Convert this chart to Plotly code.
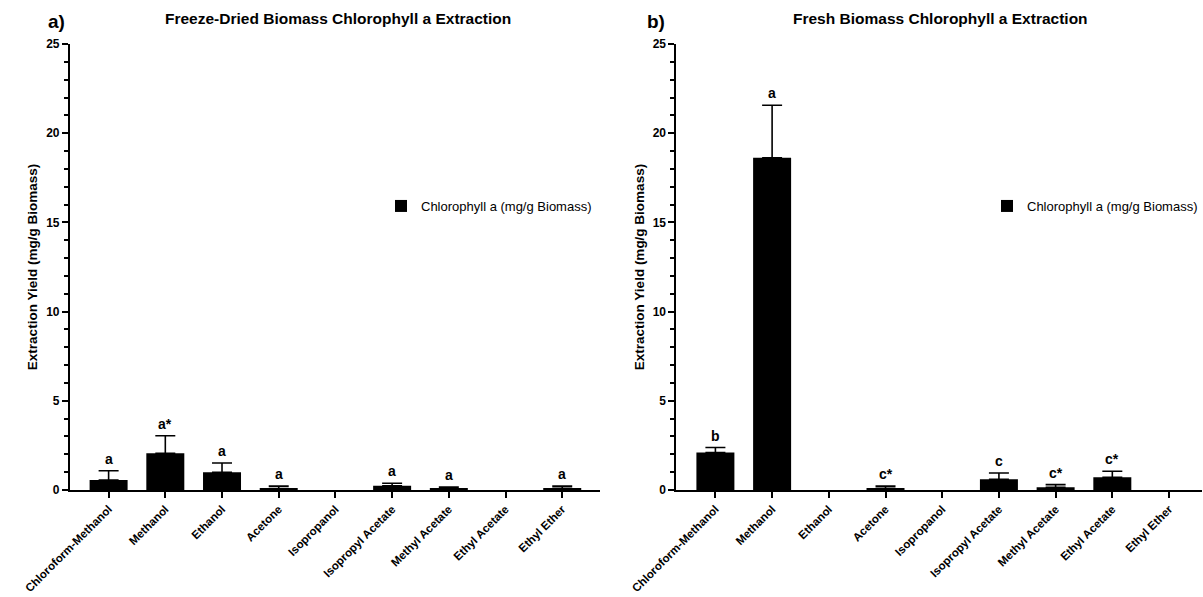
import plotly.graph_objects as go
from plotly.subplots import make_subplots

solvents = ["Chloroform-Methanol", "Methanol", "Ethanol", "Acetone", "Isopropanol",
            "Isopropyl Acetate", "Methyl Acetate", "Ethyl Acetate", "Ethyl Ether"]

fd_mean = [0.56, 2.06, 0.99, 0.08, 0.0, 0.24, 0.08, 0.0, 0.10]
fd_err = [0.52, 0.98, 0.52, 0.14, 0.0, 0.14, 0.09, 0.0, 0.12]
fd_letters = ["a", "a*", "a", "a", "", "a", "a", "", "a"]

fr_mean = [2.10, 18.62, 0.0, 0.10, 0.0, 0.60, 0.15, 0.71, 0.0]
fr_err = [0.28, 2.95, 0.0, 0.12, 0.0, 0.35, 0.15, 0.34, 0.0]
fr_letters = ["b", "a", "", "c*", "", "c", "c*", "c*", ""]

series_name = "Chlorophyll a (mg/g Biomass)"
titles = ["Freeze-Dried Biomass Chlorophyll a Extraction", "Fresh Biomass Chlorophyll a Extraction"]
panel_tags = ["a)", "b)"]
y_ticks = [0, 5, 10, 15, 20, 25]

FONT = "Liberation Sans, Arial, Helvetica, sans-serif"
W, H = 1203, 597

fig = make_subplots(rows=1, cols=2)

for col, (mean, err, legend_id) in enumerate(
        [(fd_mean, fd_err, "legend"), (fr_mean, fr_err, "legend2")], start=1):
    idx = [k for k in range(len(solvents)) if mean[k] > 0]
    fig.add_trace(go.Bar(
        x=idx, y=[mean[k] for k in idx], name=series_name,
        marker=dict(color="black", line=dict(width=0)),
        width=0.67,
        error_y=dict(type="data", symmetric=False, array=[err[k] for k in idx],
                     arrayminus=[0] * len(idx), color="black",
                     thickness=1.6, width=10),
        legend=legend_id, showlegend=True,
    ), row=1, col=col)

# domains in pixels
px_a = (70, 600)
px_b = (677, 1203)
y_top, y_bot = 44, 490
spacing = 56.75
first_tick = [108.7, 716.0]

axis_common = dict(showline=True, linecolor="black", linewidth=2,
                   ticks="outside", tickcolor="black", tickwidth=2, ticklen=6,
                   showgrid=False, zeroline=False)

for i, (px, ft) in enumerate([(px_a, first_tick[0]), (px_b, first_tick[1])]):
    xname = "xaxis" if i == 0 else "xaxis2"
    yname = "yaxis" if i == 0 else "yaxis2"
    r0 = -(ft - px[0]) / spacing
    r1 = r0 + (px[1] - px[0]) / spacing
    fig.layout[xname].update(
        domain=[px[0] / W, px[1] / W], range=[r0, r1],
        tickmode="array", tickvals=list(range(len(solvents))), ticktext=solvents,
        tickangle=-45, tickfont=dict(family=FONT, size=11.5, color="black", weight="bold"),
        automargin=False, **axis_common)
    fig.layout[yname].update(
        domain=[(H - y_bot) / H, (H - y_top) / H], range=[0, 25],
        tickmode="array", tickvals=y_ticks,
        minor=dict(dtick=1, tick0=0, ticks="outside", ticklen=4, tickwidth=1.5,
                   tickcolor="black", showgrid=False),
        tickfont=dict(family=FONT, size=12, color="black", weight="bold"),
        title=dict(text="Extraction Yield (mg/g Biomass)", standoff=5,
                   font=dict(family=FONT, size=13.5, color="black", weight="bold")),
        automargin=False, **axis_common)

annotations = []
for xref, yref, mean, err, letters in [("x", "y", fd_mean, fd_err, fd_letters),
                                        ("x2", "y2", fr_mean, fr_err, fr_letters)]:
    for k, lab in enumerate(letters):
        if not lab:
            continue
        annotations.append(dict(
            x=k, y=mean[k] + err[k], xref=xref, yref=yref, text=lab,
            showarrow=False, yanchor="bottom", yshift=2,
            font=dict(family=FONT, size=14, color="black", weight="bold")))

for title, cx in zip(titles, [338, 941]):
    annotations.append(dict(x=cx / W, y=1 - 18 / H, xref="paper", yref="paper",
                            text=title, showarrow=False, xanchor="center", yanchor="middle",
                            font=dict(family=FONT, size=15.5, color="black", weight="bold")))
for tag, cx in zip(panel_tags, [57, 657]):
    annotations.append(dict(x=cx / W, y=1 - 22 / H, xref="paper", yref="paper",
                            text=tag, showarrow=False, xanchor="center", yanchor="middle",
                            font=dict(family=FONT, size=19, color="black", weight="bold")))

legend_style = dict(font=dict(family=FONT, size=13, color="black"),
                    bgcolor="rgba(0,0,0,0)", borderwidth=0,
                    xanchor="left", yanchor="middle", itemwidth=30)

fig.update_layout(
    width=W, height=H,
    margin=dict(l=0, r=0, t=0, b=0),
    paper_bgcolor="white", plot_bgcolor="white",
    font=dict(family=FONT, color="black"),
    annotations=annotations,
    legend=dict(x=381 / W, y=(H - 206) / H, **legend_style),
    legend2=dict(x=988 / W, y=(H - 206) / H, **legend_style),
)

fig.write_html("out.html")
